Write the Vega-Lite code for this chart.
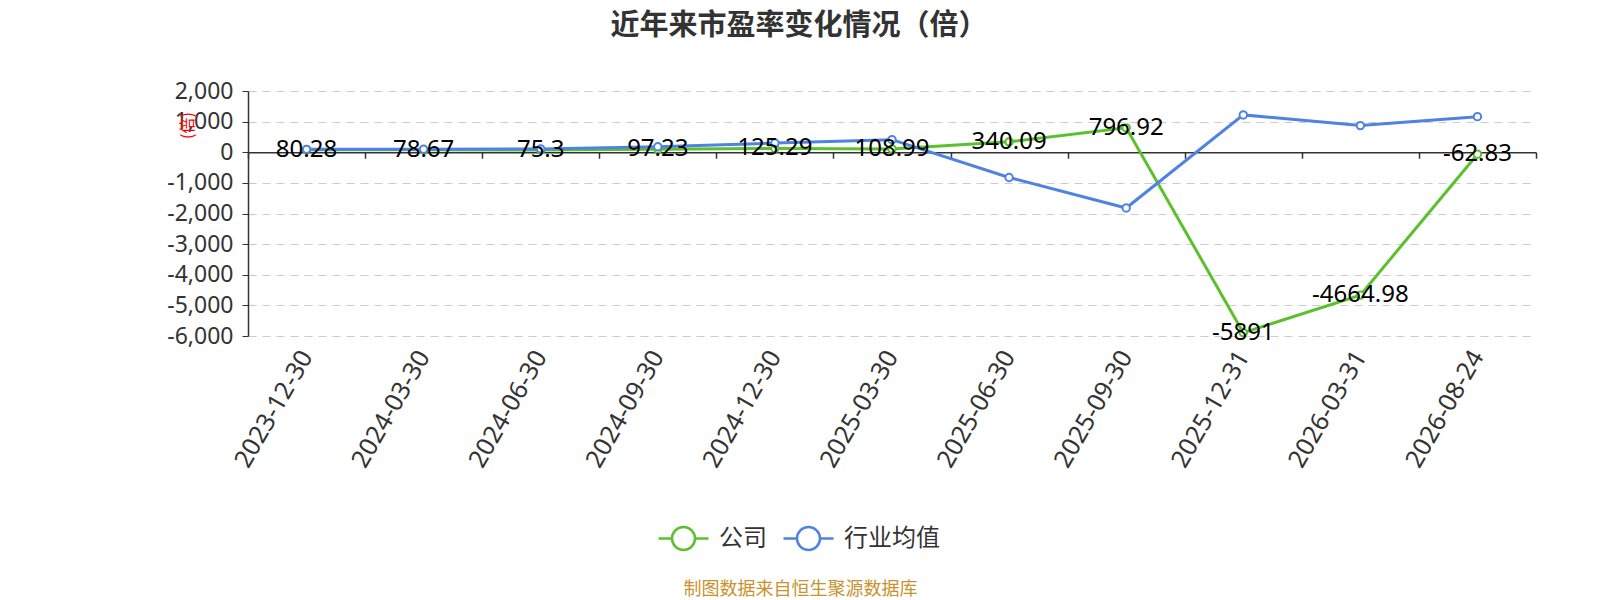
{
  "$schema": "https://vega.github.io/schema/vega-lite/v6.json",
  "autosize": "none",
  "width": 1288,
  "height": 245,
  "padding": {"left": 248, "top": 91, "right": 64, "bottom": 264},
  "background": "white",
  "title": {
    "text": "近年来市盈率变化情况（倍）",
    "fontSize": 29,
    "fontWeight": "bold",
    "color": "#333333",
    "font": "Noto Sans CJK SC",
    "anchor": "middle",
    "frame": "group",
    "dx": -93,
    "offset": 39
  },
  "config": {
    "font": "Noto Sans, Noto Sans CJK SC",
    "view": {"stroke": null},
    "axis": {"labelFont": "Noto Sans, Noto Sans CJK SC", "titleFont": "Noto Sans CJK SC"},
    "legend": {"labelFont": "Noto Sans CJK SC"}
  },
  "data": {
    "values": [
      {"date": "2023-12-30", "series": "公司", "pe": 80.28},
      {"date": "2024-03-30", "series": "公司", "pe": 78.67},
      {"date": "2024-06-30", "series": "公司", "pe": 75.3},
      {"date": "2024-09-30", "series": "公司", "pe": 97.23},
      {"date": "2024-12-30", "series": "公司", "pe": 125.29},
      {"date": "2025-03-30", "series": "公司", "pe": 108.99},
      {"date": "2025-06-30", "series": "公司", "pe": 340.09},
      {"date": "2025-09-30", "series": "公司", "pe": 796.92},
      {"date": "2025-12-31", "series": "公司", "pe": -5891},
      {"date": "2026-03-31", "series": "公司", "pe": -4664.98},
      {"date": "2026-08-24", "series": "公司", "pe": -62.83},
      {"date": "2023-12-30", "series": "行业均值", "pe": 95},
      {"date": "2024-03-30", "series": "行业均值", "pe": 98},
      {"date": "2024-06-30", "series": "行业均值", "pe": 105},
      {"date": "2024-09-30", "series": "行业均值", "pe": 180},
      {"date": "2024-12-30", "series": "行业均值", "pe": 300},
      {"date": "2025-03-30", "series": "行业均值", "pe": 410},
      {"date": "2025-06-30", "series": "行业均值", "pe": -824},
      {"date": "2025-09-30", "series": "行业均值", "pe": -1821},
      {"date": "2025-12-31", "series": "行业均值", "pe": 1219},
      {"date": "2026-03-31", "series": "行业均值", "pe": 870},
      {"date": "2026-08-24", "series": "行业均值", "pe": 1163}
    ]
  },
  "encoding": {
    "y": {
      "field": "pe",
      "type": "quantitative",
      "scale": {"domain": [-6000, 2000], "nice": false, "zero": false},
      "axis": {
        "title": "(倍)",
        "titleColor": "#ff0000",
        "titleFontSize": 16,
        "titleFontWeight": "normal",
        "titleX": -61,
        "titleY": 34,
        "titleAngle": -90,
        "titleAlign": "center",
        "titleBaseline": "middle",
        "values": [-6000, -5000, -4000, -3000, -2000, -1000, 0, 1000, 2000],
        "labelExpr": "replace(format(datum.value, ','), '−', '-')",
        "labelFontSize": 23,
        "labelColor": "#333333",
        "labelPadding": 9,
        "domainColor": "#333333",
        "domainWidth": 1.5,
        "tickColor": "#333333",
        "tickSize": 6,
        "grid": true,
        "gridColor": "#cccccc",
        "gridDash": [8, 6],
        "gridWidth": 1.2
      }
    }
  },
  "layer": [
    {
      "mark": {"type": "line", "strokeWidth": 3},
      "encoding": {
        "x": {
          "field": "date",
          "type": "ordinal",
          "sort": null,
          "scale": {"type": "band", "paddingInner": 0, "paddingOuter": 0},
          "axis": {
            "orient": "bottom",
            "domain": false,
            "ticks": false,
            "grid": false,
            "labelAngle": -60,
            "labelAlign": "right",
            "labelBaseline": "middle",
            "labelFontSize": 25,
            "labelColor": "#333333",
            "labelPadding": 16,
            "title": "制图数据来自恒生聚源数据库",
            "titleColor": "#c9922e",
            "titleFontSize": 18,
            "titleFontWeight": "normal",
            "titleX": 552,
            "titleY": 253,
            "titleAngle": 0,
            "titleAlign": "center",
            "titleBaseline": "middle"
          }
        },
        "color": {
          "field": "series",
          "type": "nominal",
          "scale": {"domain": ["公司", "行业均值"], "range": ["#5ac12c", "#4e82e3"]},
          "legend": {
            "title": null,
            "orient": "none",
            "direction": "horizontal",
            "legendX": 409,
            "legendY": 421,
            "symbolType": "M-1,0L-0.46,0M0.46,0L1,0M0.46,0A0.46,0.46,0,1,1,-0.46,0A0.46,0.46,0,1,1,0.46,0Z",
            "symbolSize": 2500,
            "symbolStrokeWidth": 2.5,
            "symbolFillColor": "white",
            "labelFontSize": 24,
            "labelColor": "#333333",
            "labelOffset": 9,
            "columnPadding": 11
          }
        }
      }
    },
    {
      "mark": {"type": "point", "filled": false, "fill": "white", "fillOpacity": 1, "size": 55, "strokeWidth": 2, "opacity": 1},
      "encoding": {
        "x": {
          "field": "date",
          "type": "ordinal",
          "sort": null,
          "axis": {
            "orient": "top",
            "offset": -61.25,
            "labels": false,
            "grid": false,
            "title": null,
            "domain": true,
            "domainColor": "#333333",
            "domainWidth": 1.5,
            "ticks": true,
            "tickBand": "extent",
            "tickColor": "#333333",
            "tickWidth": 1.5,
            "tickSize": -6
          }
        },
        "color": {"field": "series", "type": "nominal"}
      }
    },
    {
      "transform": [{"filter": "datum.series === '公司'"}],
      "mark": {"type": "text", "fontSize": 24, "color": "#000000", "baseline": "middle", "align": "center"},
      "encoding": {
        "x": {"field": "date", "type": "ordinal", "sort": null, "axis": null},
        "text": {"field": "pe", "type": "nominal"}
      }
    }
  ],
  "resolve": {"axis": {"x": "independent"}}
}
